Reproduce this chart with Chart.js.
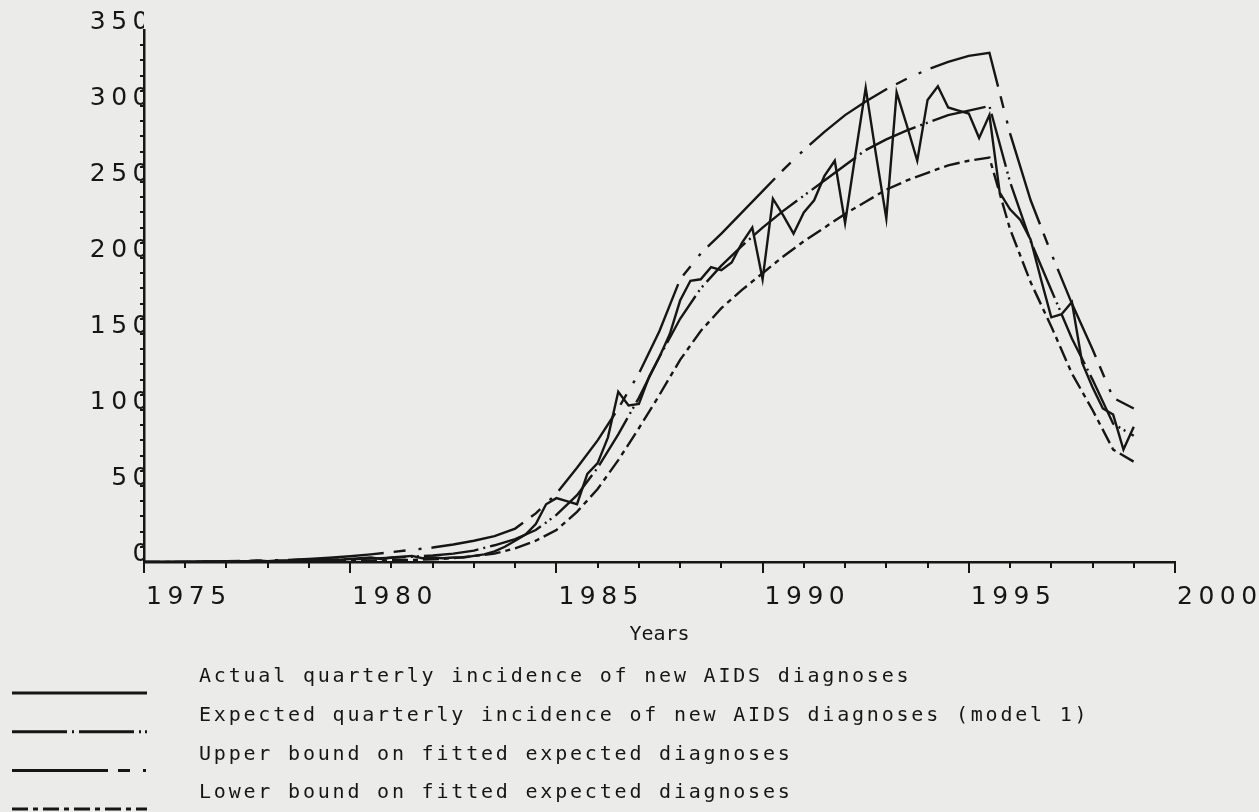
<!DOCTYPE html>
<html>
<head>
<meta charset="utf-8">
<title>Quarterly incidence of new AIDS diagnoses</title>
<script src="https://cdn.jsdelivr.net/npm/chart.js@4.4.1/dist/chart.umd.min.js"></script>
<style>
  html, body { margin: 0; padding: 0; background: #ebebea; overflow: hidden; }
  #chart { display: block; }
</style>
</head>
<body>
<canvas id="chart" width="1259" height="812"></canvas>
<script>
// observed data, one value per quarter
const quarters = [
  1975, 1975.25, 1975.5, 1975.75, 1976, 1976.25, 1976.5, 1976.75,
  1977, 1977.25, 1977.5, 1977.75, 1978, 1978.25, 1978.5, 1978.75,
  1979, 1979.25, 1979.5, 1979.75, 1980, 1980.25, 1980.5, 1980.75,
  1981, 1981.25, 1981.5, 1981.75, 1982, 1982.25, 1982.5, 1982.75,
  1983, 1983.25, 1983.5, 1983.75, 1984, 1984.25, 1984.5, 1984.75,
  1985, 1985.25, 1985.5, 1985.75, 1986, 1986.25, 1986.5, 1986.75,
  1987, 1987.25, 1987.5, 1987.75, 1988, 1988.25, 1988.5, 1988.75,
  1989, 1989.25, 1989.5, 1989.75, 1990, 1990.25, 1990.5, 1990.75,
  1991, 1991.25, 1991.5, 1991.75, 1992, 1992.25, 1992.5, 1992.75,
  1993, 1993.25, 1993.5, 1993.75, 1994, 1994.25, 1994.5, 1994.75,
  1995, 1995.25, 1995.5, 1995.75, 1996, 1996.25, 1996.5, 1996.75,
  1997, 1997.25, 1997.5, 1997.75, 1998, 1998.25, 1998.5, 1998.75,
  1999
];
const actual = [
  0, 0, 0, 0, 0, 0, 0.5, 0,
  0.5, 0.5, 0.5, 1, 0.5, 1, 1, 1.5,
  1, 2, 1.5, 1.5, 2, 2.5, 3, 2,
  3, 3.5, 4, 2.5, 3, 2.5, 3, 3,
  4, 5, 7, 10, 14, 18, 25, 38,
  42, 40, 38, 58, 65, 82, 112, 103,
  104, 122, 135, 150, 172, 185, 186, 194,
  192, 197, 210, 220, 186, 239, 228, 216,
  230, 238, 254, 264, 223, 268, 312, 268,
  226, 309, 287, 264, 304, 313, 299, 297,
  295, 279, 294, 243, 232, 225, 212, 186,
  161, 163, 171, 131, 115, 101, 97, 74,
  89
];

// fitted model curves, every half year
const fitYears = [
  1975, 1975.5, 1976, 1976.5, 1977, 1977.5, 1978, 1978.5, 1979, 1979.5,
  1980, 1980.5, 1981, 1981.5, 1982, 1982.5, 1983, 1983.5, 1984, 1984.5,
  1985, 1985.5, 1986, 1986.5, 1987, 1987.5, 1988, 1988.5, 1989, 1989.5,
  1990, 1990.5, 1991, 1991.5, 1992, 1992.5, 1993, 1993.5, 1994, 1994.5,
  1995, 1995.5, 1996, 1996.5, 1997, 1997.5, 1998, 1998.5, 1999
];
const expected = [
  0, 0, 0, 0.1, 0.2, 0.3, 0.5, 0.7, 1, 1.3,
  1.7, 2.2, 2.8, 3.5, 4.3, 5.5, 7.5, 11, 15, 21,
  31, 44, 62, 84, 108, 135, 160, 180, 195, 208,
  220, 231, 241, 251, 261, 271, 278, 284, 289, 294,
  297, 300, 250, 211, 179, 147, 120, 91, 83
];
const upper = [
  0, 0, 0.2, 0.3, 0.5, 0.7, 1, 1.4, 2, 2.8,
  3.8, 5, 6.5, 8, 9.5, 11.5, 14, 17, 22, 32,
  45, 62, 80, 101, 124, 152, 186, 203, 216, 230,
  244, 258, 271, 283, 294, 303, 311, 318, 324, 329,
  333, 335, 282, 238, 203, 170, 140, 108, 101
];
const lower = [
  0, 0, 0, 0, 0, 0.1, 0.2, 0.3, 0.4, 0.5,
  0.7, 0.9, 1.1, 1.4, 1.8, 2.5, 4, 5.5, 9, 14,
  21, 33, 48, 67, 88, 110, 133, 152, 167, 179,
  190, 201, 211, 220, 229, 237, 245, 251, 256, 261,
  264, 266, 219, 184, 155, 124, 100, 74, 66
];

const xTickYears = [1975, 1980, 1985, 1990, 1995, 2000];
const yTickValues = [0, 50, 100, 150, 200, 250, 300, 350];
const seriesLabels = [
  "Actual quarterly incidence of new AIDS diagnoses",
  "Expected quarterly incidence of new AIDS diagnoses (model 1)",
  "Upper bound on fitted expected diagnoses",
  "Lower bound on fitted expected diagnoses"
];

const ink = "#161616";
const tickFont = { family: "DejaVu Sans", size: 25 };

function pairs(xs, ys) {
  return xs.map((x, i) => ({ x: x, y: ys[i] }));
}

// minor ticks, "Years" caption and the legend block under the axis
const plotterLook = {
  id: "plotterLook",
  beforeDraw(chart) {
    chart.ctx.letterSpacing = "5.5px"; // wide plotter digits
  },
  afterDraw(chart) {
    const ctx = chart.ctx;
    const xs = chart.scales.x;
    const ys = chart.scales.y;
    const area = chart.chartArea;

    ctx.save();
    ctx.letterSpacing = "0px";
    ctx.strokeStyle = ink;
    ctx.lineWidth = 2;
    ctx.setLineDash([]);
    ctx.beginPath();
    for (let yr = 1975; yr <= 2000; yr++) {
      const px = Math.round(xs.getPixelForValue(yr));
      const len = yr % 5 === 0 ? 11 : 6;
      ctx.moveTo(px, area.bottom);
      ctx.lineTo(px, area.bottom + len);
    }
    for (let v = 10; v < 350; v += 10) {
      const py = Math.round(ys.getPixelForValue(v));
      ctx.moveTo(area.left, py);
      ctx.lineTo(area.left - 4, py);
    }
    ctx.stroke();

    ctx.fillStyle = ink;
    ctx.font = '20px "DejaVu Sans Mono"';
    ctx.textBaseline = "middle";
    ctx.textAlign = "center";
    ctx.fillText("Years", (area.left + area.right) / 2, 635);

    ctx.textAlign = "left";
    ctx.letterSpacing = "2.8px";
    chart.data.datasets.forEach((ds, i) => {
      const rowY = 677 + i * 38.7;
      ctx.fillText(ds.label, 199, rowY);
      ctx.lineWidth = 3;
      ctx.setLineDash(ds.borderDash || []);
      ctx.beginPath();
      ctx.moveTo(12, rowY + 16);
      ctx.lineTo(147, rowY + 16);
      ctx.stroke();
    });
    ctx.restore();
  }
};

function curve(label, xs, ys, dash) {
  return {
    label: label,
    data: pairs(xs, ys),
    borderColor: ink,
    borderWidth: 2.4,
    borderDash: dash,
    pointRadius: 0,
    tension: 0,
    fill: false
  };
}

new Chart(document.getElementById("chart"), {
  type: "line",
  data: {
    datasets: [
      curve(seriesLabels[0], quarters, actual, []),
      curve(seriesLabels[1], fitYears, expected, [55, 5, 2, 5, 55, 5, 2, 4, 2, 5]),
      curve(seriesLabels[2], fitYears, upper, [96, 10, 12, 13, 3, 10]),
      curve(seriesLabels[3], fitYears, lower, [16, 5, 5, 5])
    ]
  },
  options: {
    responsive: false,
    devicePixelRatio: 1,
    animation: false,
    events: [],
    layout: { padding: { top: 30, right: 84, left: 0, bottom: 0 } },
    plugins: {
      legend: { display: false },
      tooltip: { enabled: false }
    },
    scales: {
      x: {
        type: "linear",
        min: 1975,
        max: 2000,
        afterBuildTicks(scale) {
          scale.ticks = xTickYears.map(v => ({ value: v }));
        },
        afterFit(scale) {
          scale.height = 250;
          scale.paddingLeft = 0;
          scale.paddingRight = 0;
        },
        grid: { display: false, drawTicks: false, tickLength: 0 },
        border: { display: true, color: ink, width: 2.5 },
        ticks: {
          align: "start",
          padding: 20,
          labelOffset: 2,
          color: ink,
          font: tickFont,
          maxRotation: 0,
          autoSkip: false,
          callback: v => String(v)
        }
      },
      y: {
        min: 0,
        max: 350,
        afterBuildTicks(scale) {
          scale.ticks = yTickValues.map(v => ({ value: v }));
        },
        afterFit(scale) {
          scale.width = 144;
          scale.paddingTop = 0;
          scale.paddingBottom = 0;
        },
        grid: { display: false, drawTicks: false, tickLength: 0 },
        border: { display: true, color: ink, width: 2.5 },
        ticks: {
          padding: -10,
          labelOffset: -8,
          color: ink,
          font: tickFont,
          callback: v => String(v)
        }
      }
    }
  },
  plugins: [plotterLook]
});
</script>
</body>
</html>
